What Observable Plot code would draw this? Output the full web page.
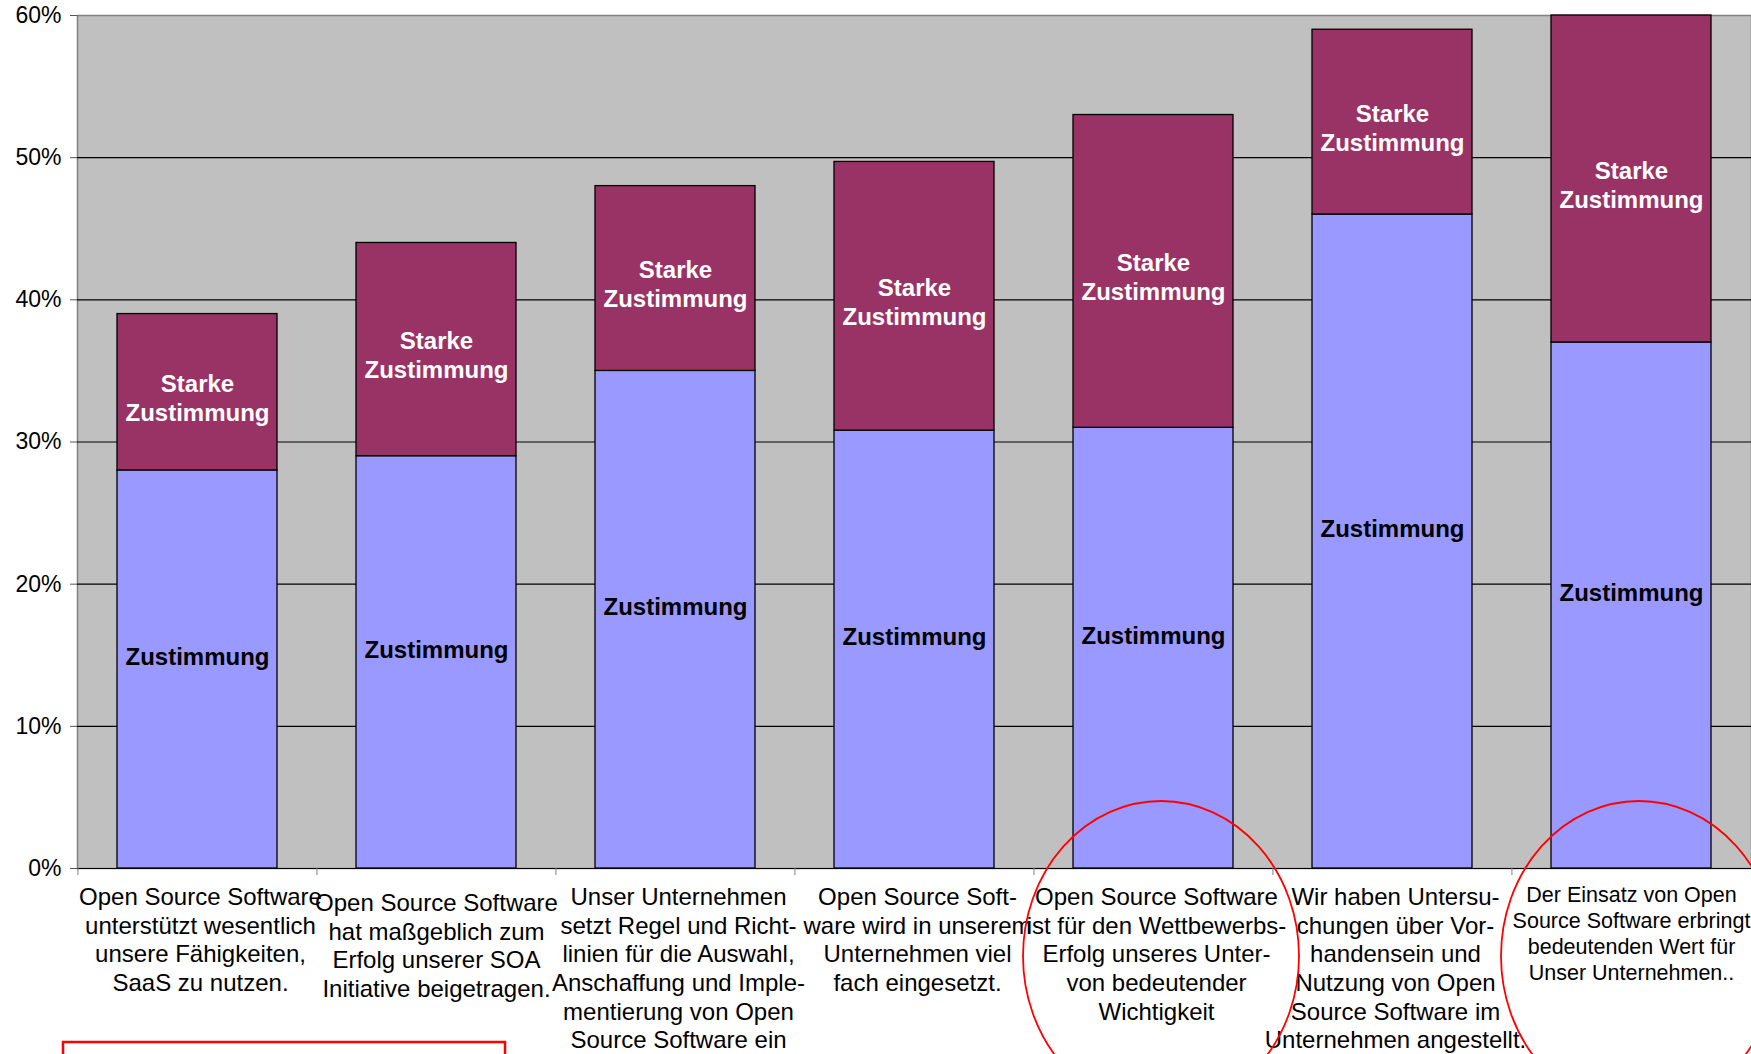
<!DOCTYPE html>
<html>
<head>
<meta charset="utf-8">
<script src="https://cdn.jsdelivr.net/npm/d3@7"></script>
<script src="https://cdn.jsdelivr.net/npm/@observablehq/plot@0.6"></script>
<style>
  html, body { margin: 0; padding: 0; background: white; overflow: hidden; }
  #chart svg { display: block; }
</style>
</head>
<body>
<div id="chart"></div>
<script>
const categories = [
  "Open Source Software\nunterstützt wesentlich\nunsere Fähigkeiten,\nSaaS zu nutzen.",
  "Open Source Software\nhat maßgeblich zum\nErfolg unserer SOA\nInitiative beigetragen.",
  "Unser Unternehmen\nsetzt Regel und Richt-\nlinien für die Auswahl,\nAnschaffung und Imple-\nmentierung von Open\nSource Software ein",
  "Open Source Soft-\nware wird in unserem\nUnternehmen viel\nfach eingesetzt.",
  "Open Source Software\nist für den Wettbewerbs-\nErfolg unseres Unter-\nvon bedeutender\nWichtigkeit",
  "Wir haben Untersu-\nchungen über Vor-\nhandensein und\nNutzung von Open\nSource Software im\nUnternehmen angestellt.",
  "Der Einsatz von Open\nSource Software erbringt\nbedeutenden Wert für\nUnser Unternehmen.."
];
const seriesNames = ["Zustimmung", "Starke Zustimmung"];
const segmentLabels = ["Zustimmung", "Starke\nZustimmung"];
const zustimmung = [28, 29, 35, 30.8, 31, 46, 37];
const starkeZustimmung = [11, 15, 13, 18.9, 22, 13, 23];
const yTicks = [0, 10, 20, 30, 40, 50, 60];

const rows = categories.flatMap((c, i) => [
  {cat: c, series: seriesNames[0], value: zustimmung[i]},
  {cat: c, series: seriesNames[1], value: starkeZustimmung[i]}
]);
const lowLabels = categories.map((c, i) => ({cat: c, y: zustimmung[i] / 2, text: segmentLabels[0]}));
const highLabels = categories.map((c, i) => ({cat: c, y: zustimmung[i] + starkeZustimmung[i] / 2, text: segmentLabels[1]}));

const W = 1751, H = 1054, ML = 77, MR = 0, MT = 15, MB = 186;
const step = (W - ML - MR) / categories.length;

const mainCats = categories.filter((d, i) => i !== 1 && i !== 6);
const font = "'Liberation Sans', Arial, sans-serif";

const chart = Plot.plot({
  width: W, height: H,
  marginLeft: ML, marginRight: MR, marginTop: MT, marginBottom: MB,
  style: {fontFamily: font, background: "white", fontSize: "23px", color: "black"},
  x: {domain: categories, paddingInner: 0.33, paddingOuter: 0.165},
  y: {domain: [0, 60]},
  color: {domain: seriesNames, range: ["#9999FF", "#993366"]},
  marks: [
    Plot.frame({fill: "#C0C0C0", stroke: "#808080", strokeWidth: 1.5}),
    Plot.ruleY(yTicks.filter(d => d < 60), {stroke: "black", strokeWidth: 1.2}),
    Plot.axisY({ticks: yTicks, tickFormat: d => d + "%", tickSize: 7, tickPadding: 9, fontSize: 23, label: null, stroke: "#555"}),
    Plot.axisX({tickSize: 7, dx: -step / 2, tickFormat: () => "", label: null, stroke: "#808080"}),
    Plot.barY(rows, Plot.stackY({x: "cat", y: "value", fill: "series", stroke: "black", strokeWidth: 1.3, order: seriesNames})),
    Plot.text(lowLabels, {x: "cat", y: "y", text: "text", fill: "black", fontWeight: "bold", fontSize: 24, dy: -12}),
    Plot.text(highLabels, {x: "cat", y: "y", text: "text", fill: "white", fontWeight: "bold", fontSize: 24, lineHeight: 1.21, dy: 5}),
    Plot.text(mainCats, {x: d => d, text: d => d, frameAnchor: "bottom", lineAnchor: "top", dy: 16, dx: 3, fontSize: 24, lineHeight: 1.195, fill: "black"}),
    Plot.text([categories[1]], {x: d => d, text: d => d, frameAnchor: "bottom", lineAnchor: "top", dy: 22, fontSize: 24, lineHeight: 1.195, fill: "black"}),
    Plot.text([categories[6]], {x: d => d, text: d => d, frameAnchor: "bottom", lineAnchor: "top", dy: 15.5, fontSize: 21.5, lineHeight: 1.2, fill: "black"})
  ]
});

document.getElementById("chart").appendChild(chart);

// red annotation shapes
const xs = chart.scale("x");
const ys = chart.scale("y");
const svg = d3.select(chart);
const base = ys.apply(0);
[categories[4], categories[6]].forEach(c => {
  svg.append("ellipse")
    .attr("cx", xs.apply(c) + xs.bandwidth / 2 + 8)
    .attr("cy", base + 88)
    .attr("rx", 138)
    .attr("ry", 155)
    .attr("fill", "none")
    .attr("stroke", "#FF0000")
    .attr("stroke-width", 1.8);
});
svg.append("rect")
  .attr("x", 63).attr("y", 1042)
  .attr("width", 442).attr("height", 40)
  .attr("fill", "none")
  .attr("stroke", "#FF0000")
  .attr("stroke-width", 2.5);
</script>
</body>
</html>
